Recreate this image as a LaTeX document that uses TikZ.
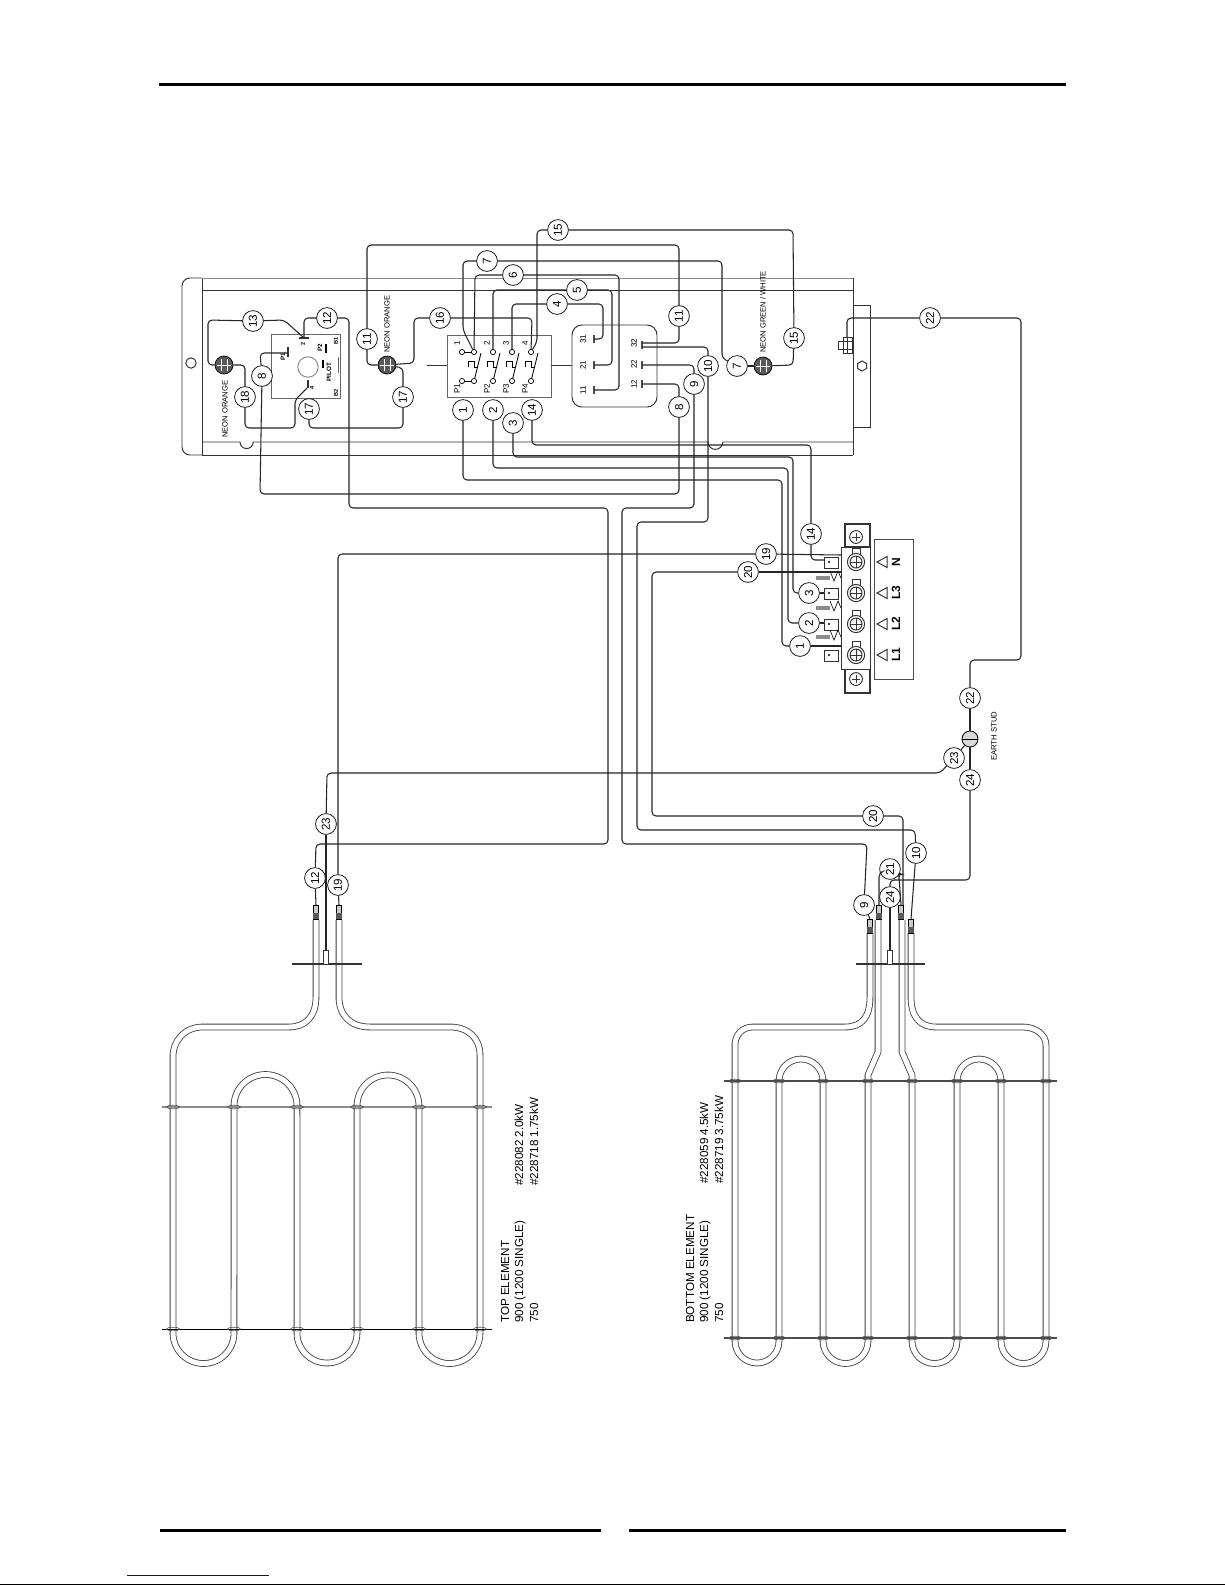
\documentclass[tikz,border=0pt]{standalone}
\usepackage{graphicx}
\usepackage{fontspec}
\setmainfont{Liberation Sans}
\usetikzlibrary{calc}

\newcommand{\wn}[1]{\rotatebox{90}{#1}}

\tikzset{
  wiretag/.style={circle, draw, fill=white, line width=1pt, inner sep=0pt, minimum size=1.04cm, font=\fontsize{16.5}{16.5}\selectfont},
  wire/.style={line width=1.5pt, black!85, rounded corners=0.2cm},
  frame/.style={line width=1.4pt, black!80},
  contact/.style={circle, draw, fill=white, line width=1pt, inner sep=0pt, minimum size=0.26cm},
  neon/.style={circle, draw, fill=black!65, line width=1pt, inner sep=0pt, minimum size=0.9cm},
  tiny/.style={rotate=90, inner sep=0pt, font=\fontsize{11.5}{11.5}\selectfont},
  note/.style={rotate=90, anchor=west, inner sep=0pt, font=\fontsize{16.6}{16.6}\selectfont},
  tube/.style={line width=1.2pt, black!75, double=white, double distance=0.25cm},
  flange/.style={line width=2.6pt, black!80},
  crossbar/.style={line width=1.5pt, black!70},
}

\begin{document}
\begin{tikzpicture}[x=0.05cm, y=-0.05cm]
  \useasboundingbox (0,0) rectangle (1225,1585);
  \fill[white] (0,0) rectangle (1225,1585);

  % page rules
  \fill (159,82.7) rectangle (1066,85.8);
  \fill (160,1528.7) rectangle (601,1531.8);
  \fill (629,1528.7) rectangle (1066,1531.8);
  \fill[blue!85!black] (127,1574.5) rectangle (269,1575.6);
  \fill (0,1583.6) rectangle (1225,1585);

  % panel
  \draw[frame, rounded corners=0.4cm] (202,278) -- (182,278) -- (182,455) -- (202,455);
  \draw[frame] (202,278) -- (202,455);
  \draw[frame, black!45] (202,278) -- (853,278);
  \draw[frame] (202,290) -- (853,290);
  \draw[frame] (202,455) -- (853,455);
  \draw[frame] (202,442) -- (240,442) arc[start angle=180, end angle=360, radius=0.33cm] -- (708,442) arc[start angle=180, end angle=360, radius=0.37cm] -- (853,442);
  \draw[frame] (853,278) -- (853,455);
  \draw[frame] (853,305) -- (870,305) -- (870,427) -- (853,427);
  \draw[frame] (191,363) circle [radius=0.26cm];
  \draw[frame] (862,361) -- (866.5,363.5) -- (866.5,368.5) -- (862,371) -- (857.5,368.5) -- (857.5,363.5) -- cycle;
  % panel stud
  \draw[frame, fill=white] (838,341) rectangle (852,349);
  \draw[frame] (843,337) rectangle (852,353);
  \draw[frame] (847,337) -- (847,353);

  % pilot box
  \draw[frame, black!60] (271,334) rectangle (340,398);
  \draw[frame, black!45] (308,367) circle [radius=0.51cm];
  \draw[frame, black!60] (338,357) -- (338,373);
  \draw[flange] (299,338) -- (309,338);
  \draw[flange] (308,380) -- (308,388);
  \draw[flange] (288,347) -- (288,357);
  \draw[line width=1.5pt] (326,344) -- (326,353) (323,360) -- (323,368);
  \node[tiny, font=\bfseries\fontsize{9}{9}\selectfont] (lblpa) at (283,357) {P1};
  \node[tiny, font=\bfseries\fontsize{9}{9}\selectfont] (lblpb) at (320,348) {P2};
  \node[tiny, font=\bfseries\fontsize{9}{9}\selectfont] (lblpilot) at (329,372) {PILOT};
  \node[tiny, font=\bfseries\fontsize{8}{8}\selectfont] (lbltwo) at (303,344) {2};
  \node[tiny, font=\bfseries\fontsize{8}{8}\selectfont] (lblfour) at (312,388) {4};
  \node[tiny, font=\bfseries\fontsize{8}{8}\selectfont] (lblbone) at (336,341) {B1};
  \node[tiny, font=\bfseries\fontsize{8}{8}\selectfont] (lblbtwo) at (336,393) {B2};

  % switch boxes
  \draw[frame, black!60, fill=white] (447,335) rectangle (551,397);
  \draw[frame] (427,365) -- (447,365) (551,365) -- (572,365);
  \draw[frame, rounded corners=0.5cm] (572,325) rectangle (657,407);
  \foreach \cx in {474,493,512,531} {
    \draw[line width=1.2pt] (\cx,381) -- (\cx+7,353);
    \draw[line width=1.2pt] (\cx-6,367) -- (\cx-6,361) -- (\cx,361) -- (\cx,367) -- (\cx+3,367);
  }
  \draw[line width=1.2pt] (462,352) -- (474,352) (462,381) -- (474,381);
  \node[contact] (ca) at (462,352) {};
  \node[contact] (cat) at (474,352) {};
  \node[contact] (cbt) at (493,352) {};
  \node[contact] (cct) at (512,352) {};
  \node[contact] (cdt) at (531,352) {};
  \node[contact] (cb) at (462,381) {};
  \node[contact] (cab) at (474,381) {};
  \node[contact] (cbb) at (493,381) {};
  \node[contact] (ccb) at (512,381) {};
  \node[contact] (cdb) at (531,381) {};
  \node[tiny] (sa) at (457,343) {1};
  \node[tiny] (sb) at (487,343) {2};
  \node[tiny] (sc) at (506,343) {3};
  \node[tiny] (sd) at (525,343) {4};
  \node[tiny] (pa) at (457,389) {P1};
  \node[tiny] (pb) at (487,389) {P2};
  \node[tiny] (pc) at (506,389) {P3};
  \node[tiny] (pd) at (525,389) {P4};
  \node[tiny] (ka) at (583,339) {31};
  \node[tiny] (kb) at (583,365) {21};
  \node[tiny] (kc) at (583,390) {11};
  \node[tiny] (kd) at (634,343) {32};
  \node[tiny] (ke) at (634,364) {22};
  \node[tiny] (kf) at (634,384) {12};
  \foreach \ty in {339,365,390} \draw[crossbar] (594,\ty-4) -- (594,\ty+4);
  \foreach \ty in {345,365,384} \draw[crossbar] (642,\ty-4) -- (642,\ty+4);
  \coordinate (ta) at (594,339);
  \coordinate (tb) at (594,365);
  \coordinate (tc) at (594,390);
  \coordinate (td) at (642,343);
  \coordinate (tdd) at (642,347);
  \coordinate (te) at (642,365);
  \coordinate (tf) at (642,384);
  \coordinate (pilotb) at (304,338);
  \coordinate (pilotf) at (307,388);
  \coordinate (pilotp) at (288,353);

  % neons
  \foreach \nm/\nx/\ny in {neona/224/365, neonb/387/365, neonc/763/366} {
    \node[neon] (\nm) at (\nx,\ny) {};
    \draw[white, line width=1.3pt] (\nx-3,\ny-6) -- (\nx-3,\ny+6) (\nx+3,\ny-6) -- (\nx+3,\ny+6);
    \draw[white, line width=0.9pt] (\nx-7,\ny) -- (\nx+7,\ny);
  }
  \node[tiny, anchor=west, font=\fontsize{10.8}{10.8}\selectfont] (lneona) at (225,438) {NEON ORANGE};
  \node[tiny, anchor=west, font=\fontsize{10.8}{10.8}\selectfont] (lneonb) at (387,353) {NEON ORANGE};
  \node[tiny, anchor=west, font=\fontsize{10.8}{10.8}\selectfont] (lneonc) at (763,353) {NEON GREEN / WHITE};

  % terminal block
  \draw[frame, line width=1.8pt] (845,524) rectangle (870,547);
  \draw[frame, line width=1.8pt] (845,669) rectangle (870,693);
  \draw[frame, fill=white] (841,547) rectangle (870,669);
  \draw[frame, black!70] (874,539) rectangle (913,679);
  \draw[frame] (856,537) circle [radius=0.32cm];
  \draw[frame] (856,679) circle [radius=0.32cm];
  \draw[frame] (856,533) -- (856,541) (852,537) -- (860,537) (856,675) -- (856,683) (852,679) -- (860,679);
  \foreach \ry/\tlab in {562/N, 593/L3, 624/L2, 655/L1} {
    \draw[frame] (852,\ry-14) rectangle (860,\ry-8);
    \draw[frame, fill=white] (856,\ry) circle [radius=0.43cm];
    \draw[frame] (856,\ry) circle [radius=0.3cm];
    \draw[frame] (856,\ry-6) -- (856,\ry+6) (850,\ry) -- (862,\ry);
    \draw[frame, fill=white] (824,\ry-5) rectangle (838,\ry+6);
    \fill (829,\ry) circle [radius=0.06cm];
    \draw[frame] (887,\ry-5.5) -- (877,\ry) -- (887,\ry+5.5) -- cycle;
    \node[tiny, font=\bfseries\fontsize{17}{17}\selectfont] at (896,\ry) {\tlab};
  }
  \foreach \sy in {578,608,637} {
    \fill[black!45] (816,\sy-2) rectangle (830,\sy+2);
    \draw[line width=0.9pt] (830,\sy-7) -- (834,\sy+3) -- (838,\sy-7) -- (841,\sy);
  }
  \coordinate (blkn) at (824,560);
  \coordinate (blkc) at (824,593);
  \coordinate (blkb) at (824,623);
  \coordinate (blka) at (841,646);
  \coordinate (blks) at (841,555);
  \coordinate (blkt) at (841,572);

  % wire tags
  \node[wiretag] (n13) at (253,321) {\wn{13}};
  \node[wiretag] (n12a) at (327,318) {\wn{12}};
  \node[wiretag] (n8a) at (262,376) {\wn{8}};
  \node[wiretag] (n18) at (245,397) {\wn{18}};
  \node[wiretag] (n17a) at (309,409) {\wn{17}};
  \node[wiretag] (n17b) at (403,397) {\wn{17}};
  \node[wiretag] (n11a) at (367,339) {\wn{11}};
  \node[wiretag] (n16) at (440,318) {\wn{16}};
  \node[wiretag] (n1a) at (463,410) {\wn{1}};
  \node[wiretag] (n2a) at (493,410) {\wn{2}};
  \node[wiretag] (n3a) at (513,423) {\wn{3}};
  \node[wiretag] (n14a) at (532,410) {\wn{14}};
  \node[wiretag] (n15a) at (558,230) {\wn{15}};
  \node[wiretag] (n7a) at (487,261) {\wn{7}};
  \node[wiretag] (n6) at (513,275) {\wn{6}};
  \node[wiretag] (n5) at (577,290) {\wn{5}};
  \node[wiretag] (n4) at (557,304) {\wn{4}};
  \node[wiretag] (n11b) at (679,316) {\wn{11}};
  \node[wiretag] (n7b) at (737,366) {\wn{7}};
  \node[wiretag] (n15b) at (794,338) {\wn{15}};
  \node[wiretag] (n10a) at (708,366) {\wn{10}};
  \node[wiretag] (n9a) at (694,384) {\wn{9}};
  \node[wiretag] (n8b) at (679,407) {\wn{8}};
  \node[wiretag] (n22a) at (930,318) {\wn{22}};
  \node[wiretag] (n14b) at (811,534) {\wn{14}};
  \node[wiretag] (n19a) at (766,554) {\wn{19}};
  \node[wiretag] (n20a) at (748,572) {\wn{20}};
  \node[wiretag] (n3b) at (809,593) {\wn{3}};
  \node[wiretag] (n2b) at (809,623) {\wn{2}};
  \node[wiretag] (n1b) at (800,646) {\wn{1}};
  \node[wiretag] (n22b) at (970,698) {\wn{22}};
  \node[wiretag] (n23a) at (954,758) {\wn{23}};
  \node[wiretag] (n24a) at (970,780) {\wn{24}};
  \node[wiretag] (n23b) at (326,824) {\wn{23}};
  \node[wiretag] (n12b) at (315,878) {\wn{12}};
  \node[wiretag] (n19b) at (338,885) {\wn{19}};
  \node[wiretag] (n9b) at (864,905) {\wn{9}};
  \node[wiretag] (n24b) at (890,897) {\wn{24}};
  \node[wiretag] (n21) at (890,869) {\wn{21}};
  \node[wiretag] (n20b) at (873,816) {\wn{20}};
  \node[wiretag] (n10b) at (916,853) {\wn{10}};

  % earth stud
  \node[circle, draw, fill=black!15, line width=1.2pt, inner sep=0pt, minimum size=0.8cm] (earth) at (970,739) {};
  \draw[line width=1.2pt] (earth.west) -- (earth.east);
  \node[tiny, anchor=west, font=\fontsize{11}{11}\selectfont] (learth) at (994,761) {EARTH STUD};

  % heating elements
  \draw[tube] (316,920) -- (316,997) .. controls (316,1017) and (305,1027) .. (289,1027) -- (203,1027)
    .. controls (185,1027) and (173,1040) .. (173,1057) -- (173,1333)
    arc[start angle=180, end angle=360, radius=1.525cm] -- (234,1106)
    arc[start angle=180, end angle=0, radius=1.575cm] -- (297,1333)
    arc[start angle=180, end angle=360, radius=1.5cm] -- (357,1106)
    arc[start angle=180, end angle=0, radius=1.55cm] -- (419,1333)
    arc[start angle=180, end angle=360, radius=1.525cm] -- (480,1055)
    .. controls (480,1038) and (468,1027) .. (450,1027) -- (370,1027)
    .. controls (350,1027) and (339,1015) .. (339,997) -- (339,920);
  \draw[tube] (870,933) -- (870,997) .. controls (870,1017) and (862,1027) .. (845,1027) -- (753,1027)
    .. controls (742,1027) and (735,1035) .. (735,1045) -- (735,1341)
    arc[start angle=180, end angle=360, radius=1.1cm] -- (779,1081)
    arc[start angle=180, end angle=0, radius=1.1cm] -- (823,1341)
    arc[start angle=180, end angle=360, radius=1.125cm] -- (868,1075) -- (878,1052) -- (878,920);
  \draw[tube] (911,933) -- (911,997) .. controls (911,1017) and (920,1027) .. (936,1027) -- (1023,1027)
    .. controls (1036,1027) and (1046,1035) .. (1046,1045) -- (1046,1341)
    arc[start angle=0, end angle=-180, radius=1.125cm] -- (1001,1081)
    arc[start angle=0, end angle=180, radius=1.1cm] -- (957,1341)
    arc[start angle=0, end angle=-180, radius=1.125cm] -- (912,1075) -- (902,1052) -- (902,920);
  \draw[line width=2.8pt, black!45] (162,1107) -- (492,1107);
  \draw[line width=1.3pt] (162,1329) -- (492,1329);
  \draw[line width=1.6pt, black!70] (724,1081) -- (1057,1081);
  \draw[line width=1.6pt, black!70] (724,1338) -- (1057,1338);
  \foreach \lx in {173,234,297,357,419,480} {
    \draw[line width=0.8pt, black!70] (\lx,1107) ellipse [x radius=0.33cm, y radius=0.09cm];
    \draw[line width=0.8pt, black!70] (\lx,1329) ellipse [x radius=0.33cm, y radius=0.09cm];
  }
  \foreach \lx in {735,779,823,868,912,957,1001,1046} {
    \draw[line width=0.8pt, black!70] (\lx,1081) ellipse [x radius=0.33cm, y radius=0.09cm];
    \draw[line width=0.8pt, black!70] (\lx,1338) ellipse [x radius=0.33cm, y radius=0.09cm];
  }
  \draw[flange] (292,964) -- (362,964);
  \draw[flange] (856,964) -- (925,964);
  \foreach \ex in {326,890} \draw[frame, fill=white] (\ex-2.2,950) rectangle (\ex+2.2,964);
  \foreach \tx/\ty in {316/905, 339/905, 879/905, 901/905, 870/919, 911/919} {
    \draw[line width=0.9pt, fill=black!20] (\tx-2.6,\ty) rectangle (\tx+2.6,\ty+14);
    \fill[black!65] (\tx-2.6,\ty+8) rectangle (\tx+2.6,\ty+14);
  }
  \coordinate (legl) at (316,905);
  \coordinate (legr) at (339,905);
  \coordinate (tabt) at (326,950);
  \coordinate (legk) at (870,919);
  \coordinate (legm) at (879,905);
  \coordinate (legn) at (901,905);
  \coordinate (lego) at (911,919);
  \coordinate (tabb) at (890,950);

  % wires inside the panel
  \draw[wire] (n4) -- (603,304) -- (603,339) -- (ta);
  \draw[wire] (n4) -- (512,304) -- (cct);
  \draw[wire] (n5) -- (612,290) -- (612,365) -- (tb);
  \draw[wire] (n5) -- (493,290) -- (cbt);
  \draw[wire] (n6) -- (619,275) -- (619,390) -- (tc);
  \draw[wire] (n6) -- (475,275) -- (cat);
  \draw[wire] (n7a) -- (463,261) -- (463,330) -- (cat);
  \draw[wire] (n7a) -- (722,261) -- (722,358) -- (n7b);
  \draw[wire] (n7b) -- (neonc);
  \draw[wire] (td) -- (679,343) -- (n11b);
  \draw[wire] (n11b) -- (679,245) -- (367,245) -- (n11a);
  \draw[wire] (n11a) -- (367,365) -- (neonb);
  \draw[wire] (n15a) -- (537,230) -- (537,342) -- (cdt);
  \draw[wire] (n15a) -- (793,230) -- (n15b);
  \draw[wire] (n15b) -- (793,365) -- (neonc);
  \draw[wire] (neonb) -- (414,363) -- (414,318) -- (n16);
  \draw[wire] (n16) -- (532,318) -- (cdt);
  \draw[wire] (neonb) -- (403,368) -- (n17b);
  \draw[wire] (n17b) -- (403,428) -- (309,428) -- (n17a);
  \draw[wire] (neona) -- (245,365) -- (n18);
  \draw[wire] (n18) -- (245,428) -- (295,428) -- (295,400) -- (pilotf);
  \draw[wire] (neona) -- (208,365) -- (208,320) -- (n13);
  \draw[wire] (n13) -- (284,320) -- (pilotb);
  \draw[wire] (pilotb) -- (304,318) -- (n12a);

  % wires to the elements and the block
  \draw[wire] (n8a) -- (260,353) -- (pilotp);
  \draw[wire] (n8a) -- (260,494) -- (679,494) -- (n8b);
  \draw[wire] (n8b) -- (679,384) -- (tf);
  \draw[wire] (n12a) -- (349,318) -- (349,508) -- (608,508) -- (608,844) -- (316,844) -- (n12b);
  \draw[wire] (n12b) -- (legl);
  \draw[wire] (te) -- (694,365) -- (n9a);
  \draw[wire] (n9a) -- (694,508) -- (622,508) -- (622,844) -- (867,844) -- (n9b);
  \draw[wire] (n9b) -- (legk);
  \draw[wire] (tdd) -- (708,347) -- (n10a);
  \draw[wire] (n10a) -- (708,522) -- (637,522) -- (637,830) -- (915,830) -- (n10b);
  \draw[wire] (n10b) -- (lego);
  \draw[wire] (n1a) -- (463,480) -- (782,480) -- (782,646) -- (n1b);
  \draw[wire] (n1b) -- (blka);
  \draw[wire] (n2a) -- (493,468) -- (788,468) -- (788,623) -- (n2b);
  \draw[wire] (n2b) -- (blkb);
  \draw[wire] (n3a) -- (513,457) -- (793,457) -- (793,593) -- (n3b);
  \draw[wire] (n3b) -- (blkc);
  \draw[wire] (n14a) -- (532,445) -- (811,445) -- (n14b);
  \draw[wire] (n14b) -- (811,560) -- (blkn);
  \draw[wire] (n19b) -- (338,554) -- (n19a);
  \draw[wire] (n19b) -- (legr);
  \draw[wire] (n19a) -- (blks);
  \draw[wire] (n20a) -- (652,572) -- (652,816) -- (n20b);
  \draw[wire] (n20a) -- (blkt);
  \draw[wire] (n20b) -- (903,816) -- (903,905);
  \draw[wire] (n21) -- (879,873) -- (legm);
  \draw[wire] (n21) -- (899,873) -- (899,877) -- (legn);
  \draw[wire] (n24b) -- (tabb);
  \draw[wire] (n24b) -- (890,880) -- (970,880) -- (n24a);
  \draw[wire] (n24a) -- (earth);
  \draw[wire] (earth) -- (n23a);
  \draw[wire] (n23a) -- (940,773) -- (327,773) -- (n23b);
  \draw[wire] (n23b) -- (tabt);
  \draw[wire] (earth) -- (n22b);
  \draw[wire] (n22b) -- (970,660) -- (1021,660) -- (1021,318) -- (n22a);
  \draw[wire] (n22a) -- (847,318) -- (847,337);

  % notes
  \node[note] (ltopa) at (505,1323) {TOP ELEMENT};
  \node[note] (ltopb) at (520,1323) {900 (1200 SINGLE)};
  \node[note] (ltopc) at (534,1323) {750};
  \node[note] (ltopd) at (519,1186) {\#228082 2.0kW};
  \node[note] (ltope) at (534,1186) {\#228718 1.75kW};
  \node[note] (lbota) at (690,1323) {BOTTOM ELEMENT};
  \node[note] (lbotb) at (705,1323) {900 (1200 SINGLE)};
  \node[note] (lbotc) at (719,1323) {750};
  \node[note] (lbotd) at (704,1184) {\#228059 4.5kW};
  \node[note] (lbote) at (719,1184) {\#228719 3.75kW};
\end{tikzpicture}
\end{document}
